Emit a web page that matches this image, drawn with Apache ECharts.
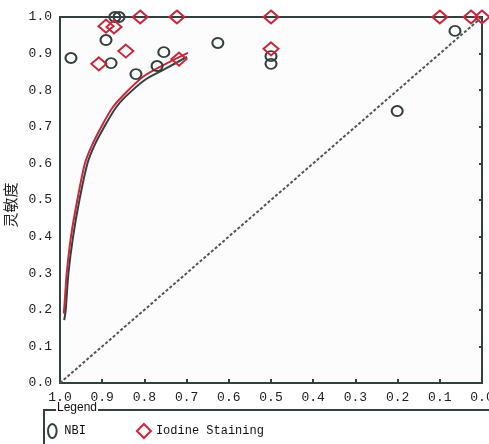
<!DOCTYPE html>
<html>
<head>
<meta charset="utf-8">
<script src="https://cdn.jsdelivr.net/npm/echarts@6/dist/echarts.min.js"></script>
<style>
  html, body { margin: 0; padding: 0; background: #ffffff; }
  #chart { width: 489px; height: 444px; }
</style>
</head>
<body>
<div id="chart"></div>
<script>
// Study points: [specificity, sensitivity]
const nbiPoints = [
    [0.974, 0.888], [0.891, 0.937], [0.879, 0.874], [0.870, 1.0], [0.860, 1.0],
    [0.820, 0.844], [0.770, 0.866], [0.754, 0.904], [0.626, 0.929],
    [0.5, 0.893], [0.5, 0.872], [0.201, 0.743], [0.064, 0.962]
];
const iodinePoints = [
    [0.908, 0.872], [0.891, 0.975], [0.872, 0.973], [0.844, 0.907],
    [0.810, 1.0], [0.723, 1.0], [0.718, 0.885], [0.5, 1.0], [0.5, 0.913],
    [0.100, 1.0], [0.026, 1.0], [0.0, 1.0]
];

// SROC curves: [specificity, sensitivity]
const nbiCurve = [
    [0.990, 0.172], [0.9865, 0.20], [0.980, 0.30], [0.969, 0.40], [0.954, 0.50],
    [0.935, 0.60], [0.918, 0.65], [0.895, 0.70], [0.869, 0.75], [0.846, 0.781],
    [0.799, 0.828], [0.751, 0.858], [0.699, 0.891]
];
const iodineCurve = [
    [0.991, 0.190], [0.989, 0.22], [0.984, 0.30], [0.974, 0.40], [0.959, 0.50],
    [0.941, 0.60], [0.924, 0.65], [0.902, 0.70], [0.877, 0.75], [0.851, 0.785],
    [0.804, 0.836], [0.756, 0.868], [0.697, 0.902]
];

// Chance line
const diagonal = [[1, 0], [0, 1]];

const seriesNames = ['NBI', 'Iodine Staining'];
const yAxisName = '灵敏度';

const DARK = '#34403f';
const RED = '#c8283a';
const labelFont = { color: '#222', fontSize: 13, fontFamily: 'Liberation Mono' };

const chart = echarts.init(document.getElementById('chart'), null, { renderer: 'canvas' });

chart.setOption({
    animation: false,
    backgroundColor: '#ffffff',
    grid: {
        left: 60, right: 7, top: 17, bottom: 61,
        outerBoundsMode: 'none',
        containLabel: false,
        show: true,
        borderColor: DARK,
        borderWidth: 2,
        backgroundColor: '#fcfcfc'
    },
    xAxis: {
        type: 'value',
        inverse: true,
        min: 0, max: 1, interval: 0.1,
        axisLine: { lineStyle: { color: DARK, width: 2 } },
        axisTick: { inside: true, length: 4, lineStyle: { color: DARK, width: 2 } },
        splitLine: { show: false },
        axisLabel: Object.assign({ margin: 8, formatter: v => v.toFixed(1) }, labelFont)
    },
    yAxis: {
        type: 'value',
        min: 0, max: 1, interval: 0.1,
        name: yAxisName,
        nameLocation: 'middle',
        nameGap: 31,
        nameRotate: 90,
        nameTextStyle: {
            fontSize: 15, color: '#222', fontFamily: 'Noto Sans CJK SC',
            padding: [0, 10, 0, 0]
        },
        axisLine: { lineStyle: { color: DARK, width: 2 } },
        axisTick: { length: 3, lineStyle: { color: DARK, width: 2 } },
        splitLine: { show: false },
        axisLabel: Object.assign({ margin: 8, formatter: v => v.toFixed(1) }, labelFont)
    },
    legend: {
        left: 47, top: 423,
        padding: 0,
        itemWidth: 14, itemHeight: 14,
        itemGap: 50,
        textStyle: { fontSize: 12, color: '#111', fontFamily: 'Liberation Mono' },
        data: [
            { name: seriesNames[0], icon: 'path://M4,0A4,6.5,0,1,1,4,13A4,6.5,0,1,1,4,0Z' },
            { name: seriesNames[1], icon: 'diamond' }
        ]
    },
    graphic: [
        {
            type: 'rect',
            shape: { x: 44, y: 410, width: 470, height: 60 },
            style: { fill: 'none', stroke: DARK, lineWidth: 2 },
            z: 1
        },
        {
            type: 'text',
            left: 56, top: 402,
            style: {
                text: 'Legend',
                fontSize: 12,
                fontFamily: 'Liberation Sans',
                fill: '#111',
                backgroundColor: '#ffffff',
                padding: [0, 1]
            },
            z: 2
        }
    ],
    series: [
        {
            name: 'diagonal',
            type: 'line',
            data: diagonal,
            symbol: 'none',
            lineStyle: { color: '#555', width: 2, type: [3, 2] },
            z: 1
        },
        {
            name: 'NBI SROC',
            type: 'line',
            data: nbiCurve,
            smooth: 0.3,
            symbol: 'none',
            lineStyle: { color: DARK, width: 2 },
            z: 2
        },
        {
            name: 'Iodine SROC',
            type: 'line',
            data: iodineCurve,
            smooth: 0.3,
            symbol: 'none',
            lineStyle: { color: RED, width: 2 },
            z: 3
        },
        {
            name: seriesNames[0],
            type: 'scatter',
            data: nbiPoints,
            symbol: 'circle',
            symbolSize: [11, 10],
            clip: false,
            itemStyle: { color: 'rgba(0,0,0,0)', borderColor: DARK, borderWidth: 2, opacity: 1 },
            z: 4
        },
        {
            name: seriesNames[1],
            type: 'scatter',
            data: iodinePoints,
            symbol: 'diamond',
            symbolSize: [15, 13],
            clip: false,
            itemStyle: { color: 'rgba(0,0,0,0)', borderColor: RED, borderWidth: 2, opacity: 1 },
            z: 5
        }
    ]
});
</script>
</body>
</html>
